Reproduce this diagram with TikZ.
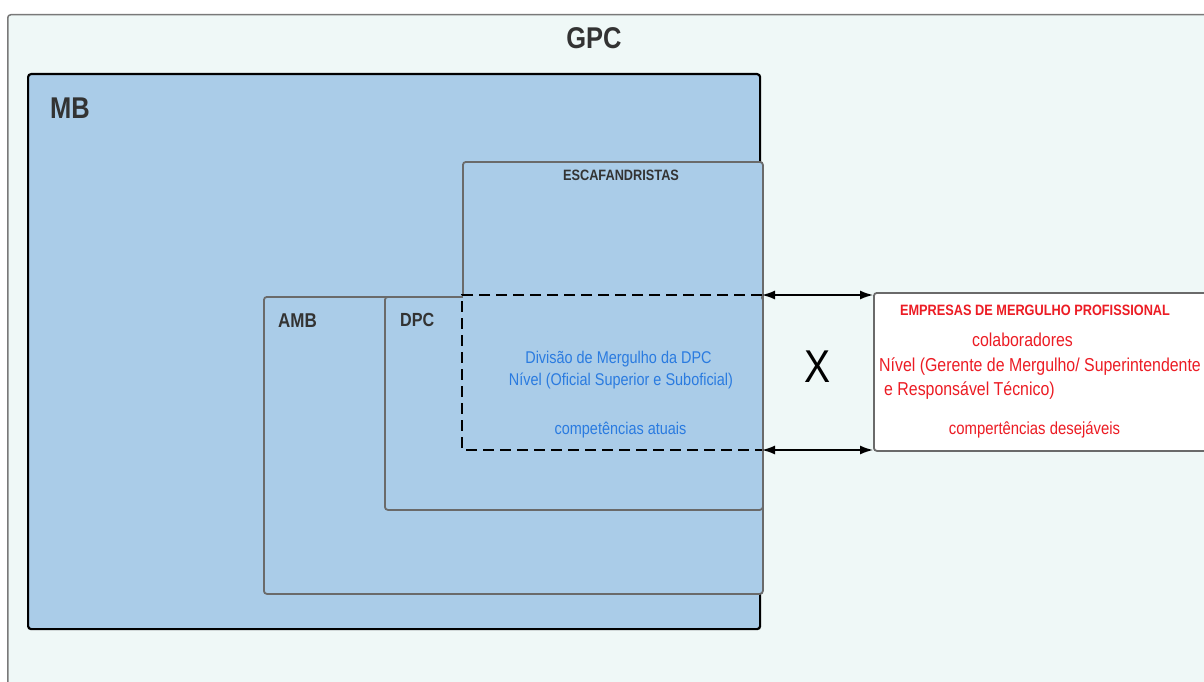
\documentclass[tikz,border=0pt]{standalone}
\usepackage{fontspec}
\setmainfont{Liberation Sans}[FakeStretch=0.85]
\usetikzlibrary{arrows.meta}
\definecolor{bgpc}{HTML}{EFF8F7}
\definecolor{bblue}{HTML}{AACCE8}
\definecolor{edgegray}{HTML}{6A6A6A}
\definecolor{darktext}{HTML}{333333}
\definecolor{bluetext}{HTML}{2A7BE0}
\definecolor{redtext}{HTML}{EC1C24}
\tikzset{
  x=1pt, y=-1pt,
  framebox/.style={draw=edgegray, line width=1.8pt, rounded corners=3pt, inner sep=0pt, anchor=north west},
  head/.style={text=darktext, font=\bfseries, inner sep=0pt, anchor=base},
  bluet/.style={text=bluetext, font=\fontsize{17}{20}\selectfont, inner sep=0pt, anchor=base},
  redt/.style={text=redtext, font=\fontsize{18.7}{22}\selectfont, inner sep=0pt, anchor=base},
  dashline/.style={draw=black, line width=2pt, dash pattern=on 11pt off 6pt},
  dblarrow/.style={draw=black, line width=1.5pt, {Latex[length=13pt,width=9pt]}-{Latex[length=13pt,width=9pt]}}
}
\begin{document}
\begin{tikzpicture}
\useasboundingbox[fill=white] (0,0) rectangle (1204,682);
% GPC
\node[framebox, draw=edgegray!90, line width=1.5pt, fill=bgpc, minimum width=1210pt, minimum height=680pt] (gpc) at (7,14) {};
\node[head, font=\bfseries\fontsize{30}{34}\selectfont] (gpct) at (594,48.5) {GPC};
% MB
\node[framebox, draw=black, line width=2.2pt, fill=bblue, minimum width=732pt, minimum height=555pt] (mb) at (27,73) {};
\node[head, anchor=base west, font=\bfseries\fontsize{30}{34}\selectfont] (mbt) at (50,119) {MB};
% ESCAFANDRISTAS
\node[framebox, fill=bblue, minimum width=300pt, minimum height=289pt] (esc) at (462,161) {};
\node[head, font=\bfseries\fontsize{15}{18}\selectfont] (esct) at (621,180) {ESCAFANDRISTAS};
% AMB
\node[framebox, fill=bblue, minimum width=499pt, minimum height=297pt] (amb) at (263,296) {};
\node[head, anchor=base west, font=\bfseries\fontsize{20}{24}\selectfont] (ambt) at (278,327) {AMB};
% DPC
\node[framebox, fill=bblue, minimum width=378pt, minimum height=213pt] (dpc) at (384,296) {};
\node[head, anchor=base west, font=\bfseries\fontsize{19}{23}\selectfont] (dpct) at (400,326) {DPC};
% overlap (dashed)
\fill[bblue] (463,294) rectangle (760.5,451);
\coordinate (ovtr) at (762,295);
\coordinate (ovtl) at (462,295);
\coordinate (ovbl) at (462,450);
\coordinate (ovbr) at (762,450);
\draw[dashline] (ovtr) -- (ovtl) -- (ovbl) -- (ovbr);
\node[bluet] (div1) at (618.5,363.5) {Divisão de Mergulho da DPC};
\node[bluet] (div2) at (621,385) {Nível (Oficial Superior e Suboficial)};
\node[bluet] (div3) at (620.5,434.5) {competências atuais};
% Empresas
\node[framebox, fill=white, minimum width=345pt, minimum height=158pt] (emp) at (873,292) {};
\node[redt, font=\bfseries\fontsize{15}{18}\selectfont] (empt) at (1035,315) {EMPRESAS DE MERGULHO PROFISSIONAL};
\node[redt] (col) at (1022.5,346.5) {colaboradores};
\node[redt, anchor=base west] (niv1) at (879,371.5) {Nível (Gerente de Mergulho/ Superintendente};
\node[redt, anchor=base west] (niv2) at (884,395) {e Responsável Técnico)};
\node[redt, font=\fontsize{17.5}{21}\selectfont] (comp) at (1034.5,434) {compertências desejáveis};
% arrows
\coordinate (et) at (873,295);
\coordinate (eb) at (873,450);
\draw[dblarrow] (ovtr) -- (et);
\draw[dblarrow] (ovbr) -- (eb);
\node[inner sep=0pt, anchor=base, text=black, font=\fontsize{46}{50}\selectfont] (x) at (817.5,382) {X};
\end{tikzpicture}
\end{document}
